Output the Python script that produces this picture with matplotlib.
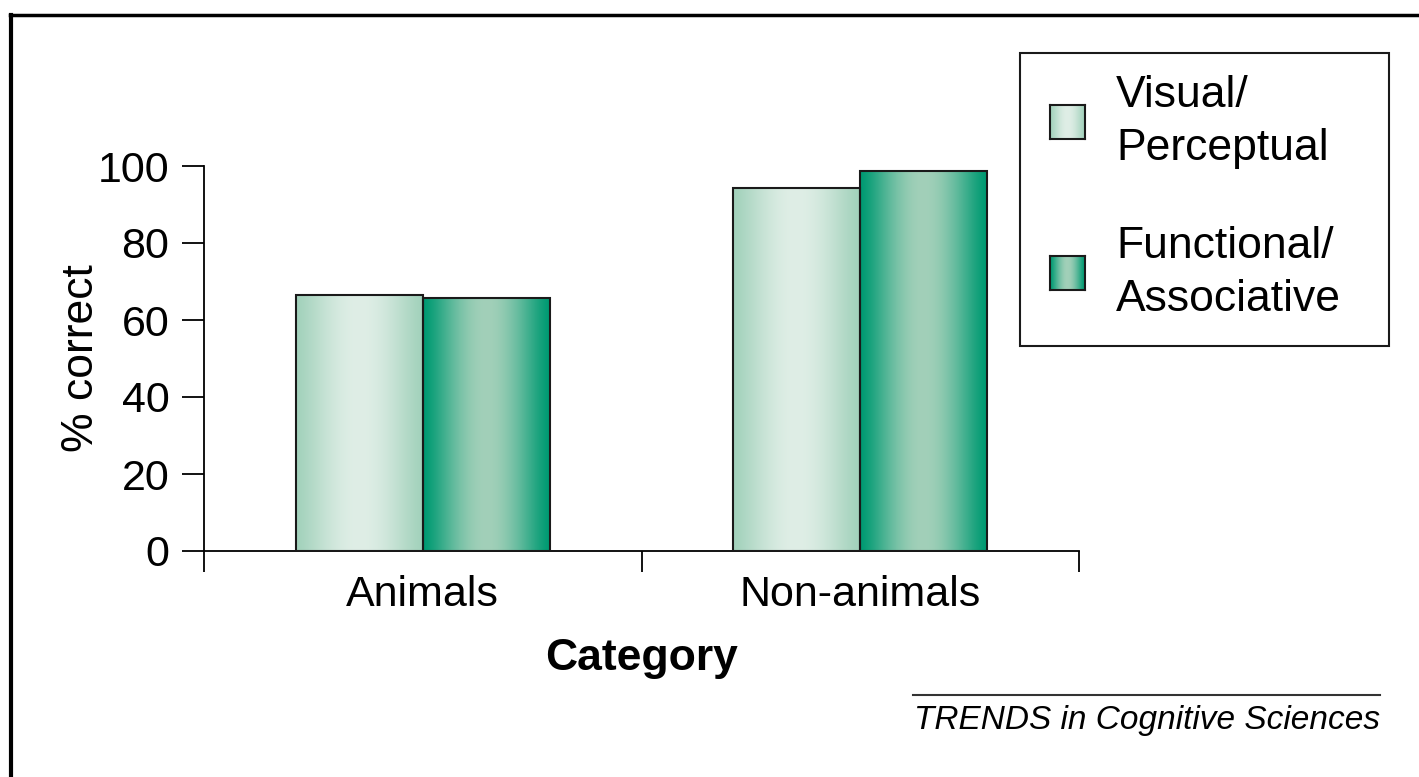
import numpy as np
import matplotlib.pyplot as plt
from matplotlib.colors import to_rgb
from matplotlib.patches import Rectangle
from matplotlib.lines import Line2D

plt.rcParams['font.family'] = ['Liberation Sans', 'DejaVu Sans']

categories = ['Animals', 'Non-animals']
series = ['Visual/\nPerceptual', 'Functional/\nAssociative']
visual = [66.5, 94.3]
functional = [65.7, 98.7]
yticks = [0, 20, 40, 60, 80, 100]

# gradient colours (edge, middle) per series
grad_colors = [('#a3d2bc', '#dfeee6'), ('#009a72', '#a2d0b9')]


def gradient_img(edge, mid, n=64):
    e = np.array(to_rgb(edge))
    m = np.array(to_rgb(mid))
    t = np.linspace(0, 1, n)
    w = np.sin(np.pi * t) ** 1.3
    return (e[None, :] * (1 - w[:, None]) + m[None, :] * w[:, None])[None, :, :]


fig = plt.figure(figsize=(14.19, 7.77), dpi=100)
ax = fig.add_axes([204 / 1419, 1 - 551 / 777, (1079 - 204) / 1419, (551 - 166) / 777])

x = np.arange(len(categories))
width = 0.29
for i, vals in enumerate([visual, functional]):
    offs = (i - 0.5) * width
    bars = ax.bar(x + offs, vals, width, facecolor='none', edgecolor='#1a1a1a', linewidth=1.5, zorder=3)
    img = gradient_img(*grad_colors[i])
    for b in bars:
        bx, by = b.get_x(), b.get_y()
        im = ax.imshow(img, extent=(bx, bx + b.get_width(), by, by + b.get_height()),
                       aspect='auto', zorder=2, interpolation='bilinear')
        im.set_clip_path(b)

ax.set_xlim(-0.5, 1.5)
ax.set_ylim(0, 100)
ax.set_yticks(yticks)
ax.set_xticks(x)
ax.set_xticklabels(categories, fontsize=31)
ax.set_xticks([-0.5, 0.5, 1.5], minor=True)
ax.tick_params(axis='x', which='major', length=0, pad=17)
ax.tick_params(axis='x', which='minor', length=15, width=1.3, direction='out')
ax.tick_params(axis='y', labelsize=31, length=16, width=1.3, pad=9)
for s in ['top', 'right']:
    ax.spines[s].set_visible(False)
for s in ['left', 'bottom']:
    ax.spines[s].set_linewidth(1.3)
ax.set_ylabel('% correct', fontsize=32, labelpad=-3)
ax.set_xlabel('Category', fontsize=32, fontweight='bold', labelpad=17)

# legend drawn by hand with gradient swatches
fig.patches.append(Rectangle((1020 / 1419, 1 - 346 / 777), 369 / 1419, 293 / 777,
                             transform=fig.transFigure, facecolor='white',
                             edgecolor='#1a1a1a', linewidth=1.5, zorder=0))
for i, (label, ycen) in enumerate(zip(series, [122, 273])):
    sx0, sx1 = 1050 / 1419, 1085 / 1419
    sy0, sy1 = 1 - (ycen + 17) / 777, 1 - (ycen - 17) / 777
    lax = fig.add_axes([sx0, sy0, sx1 - sx0, sy1 - sy0])
    lax.set_zorder(5)
    lax.imshow(gradient_img(*grad_colors[i]), aspect='auto', interpolation='bilinear')
    lax.set_xticks([])
    lax.set_yticks([])
    for sp in lax.spines.values():
        sp.set_linewidth(1.5)
        sp.set_color('#1a1a1a')
    fig.text(1116 / 1419, 1 - ycen / 777, label, fontsize=32, va='center', ha='left',
             linespacing=1.35, zorder=6)

# outer frame
fig.lines.append(Line2D([10 / 1419, 1], [1 - 15 / 777, 1 - 15 / 777], transform=fig.transFigure,
                        color='black', linewidth=2.5))
fig.lines.append(Line2D([11 / 1419, 11 / 1419], [0, 1 - 15 / 777], transform=fig.transFigure,
                        color='black', linewidth=3))

# source line
fig.lines.append(Line2D([913 / 1419, 1380 / 1419], [1 - 695 / 777, 1 - 695 / 777],
                        transform=fig.transFigure, color='#333333', linewidth=1.5))
fig.text(1380 / 1419, 1 - 721 / 777, 'TRENDS in Cognitive Sciences', fontsize=24,
         style='italic', ha='right', va='center')

fig.savefig('out.png', dpi=100)
